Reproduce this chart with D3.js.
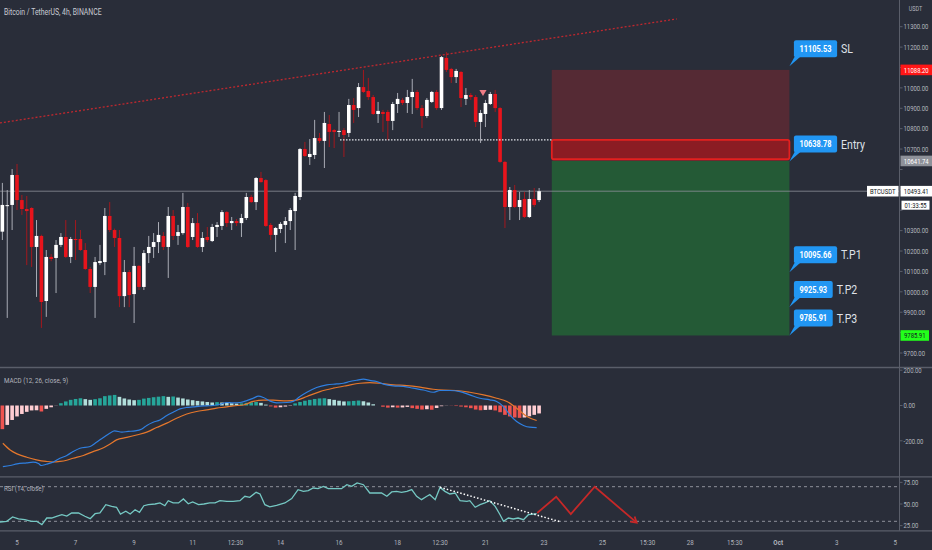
<!DOCTYPE html>
<html>
<head>
<meta charset="utf-8">
<script src="https://cdn.jsdelivr.net/npm/d3@7"></script>
<style>
  html, body { margin: 0; padding: 0; background: #292d39; }
  svg { display: block; }
</style>
</head>
<body>
<div id="chart"></div>
<script>
'use strict';

// ---- data (candle index 0 = Sep 5 00:00, 6 candles a day) ----
var candleStart = -3;
var candleOpen = [
  10295,10420,10426,10573,10450,10406,10411,10220,10274,9955,
  10171,10166,10230,10269,10171,10259,10259,10205,10112,10024,
  10141,10146,10372,10303,10264,9979,10097,9989,10127,10024,
  10190,10220,10244,10274,10220,10372,10274,10288,10416,10269,
  10337,10220,10269,10249,10318,10323,10391,10337,10347,10337,
  10362,10465,10440,10558,10548,10328,10279,10308,10328,10347,
  10396,10465,10700,10661,10671,10754,10740,10823,10793,10784,
  10793,10779,10916,10901,11004,10985,10955,10872,10882,10882,
  10838,10921,10941,10926,10955,10980,10901,10862,10931,10980,
  10901,11147,11093,11053,11078,10946,10965,10955,10833,10872,
  10921,10970,10901,10637,10416,10499,10416,10455,10367,10455,
  10450];
var candleHigh = [
  10534,10499,10602,10627,10475,10470,10415,10352,10280,10205,
  10185,10254,10288,10352,10269,10352,10303,10239,10122,10171,
  10230,10411,10440,10310,10303,10156,10107,10220,10131,10205,
  10274,10288,10342,10293,10416,10401,10328,10485,10436,10362,
  10386,10293,10318,10333,10342,10401,10396,10367,10357,10382,
  10485,10475,10563,10588,10553,10337,10318,10342,10367,10411,
  10485,10705,10735,10749,10843,10779,10882,10867,10798,10882,
  10803,10946,10950,11024,11088,11049,10965,10931,10892,10892,
  10931,10975,10950,10990,11044,10990,10916,10950,10985,10990,
  11156,11176,11098,11093,11083,10999,10975,10965,10892,10941,
  10980,10990,10906,10642,10514,10524,10490,10490,10499,10509,
  10509];
var candleLow = [
  10254,9872,10303,10401,10377,10131,10122,9975,9823,9877,
  10150,9994,10220,10166,10141,10156,10200,10107,9994,9872,
  10131,10082,10293,10220,9925,9925,9925,9847,10009,10009,
  10141,10166,10190,10205,10068,10254,10230,10280,10215,10254,
  10215,10195,10244,10244,10269,10303,10318,10303,10323,10269,
  10352,10436,10401,10535,10318,10254,10195,10288,10239,10303,
  10205,10450,10661,10622,10651,10730,10607,10710,10705,10759,
  10661,10759,10828,10857,10975,10941,10867,10828,10784,10744,
  10793,10877,10916,10877,10872,10892,10803,10852,10926,10892,
  10892,11078,11024,11024,10906,10916,10941,10808,10730,10808,
  10916,10882,10632,10313,10352,10411,10352,10362,10362,10416,
  10440];
var candleClose = [
  10426,10425,10573,10450,10406,10396,10220,10274,9950,10171,
  10161,10230,10269,10171,10259,10254,10205,10112,10024,10146,
  10151,10372,10303,10264,9979,10097,9984,10127,10024,10190,
  10220,10244,10279,10220,10372,10274,10293,10416,10220,10337,
  10220,10264,10254,10318,10328,10391,10337,10347,10337,10362,
  10465,10440,10558,10538,10323,10279,10313,10333,10347,10401,
  10470,10700,10666,10676,10754,10740,10828,10784,10784,10789,
  10769,10916,10892,11004,10980,10955,10872,10887,10872,10838,
  10921,10946,10926,10955,10980,10901,10862,10941,10980,10901,
  11151,11088,11053,11083,10950,10965,10955,10833,10877,10926,
  10970,10901,10637,10416,10499,10416,10450,10367,10455,10426,
  10493.41];

// MACD histogram, one value per candle from candleStart
var macdHist = [
  -134,-110,-82,-62,-48,-36,-28,-27,-34,-19,
  -10,-1,13,23,32,37,41,36,32,36,
  41,53,57,60,49,40,34,30,32,39,
  43,47,50,53,49,51,45,40,34,30,
  26,23,20,17,19,17,15,13,11,12,
  15,18,20,15,5,-5,-12,-10,-6,-2,
  12,20,27,32,37,40,41,36,32,27,
  23,24,26,28,24,17,7,0,-7,-12,
  -10,-12,-11,-8,-15,-19,-23,-21,-24,-14,
  -4,-1,-1,-3,-6,-10,-15,-23,-27,-25,
  -24,-28,-38,-53,-62,-68,-70,-68,-61,-53,
  -45];
// [candle index, value]
var macdLine = [[-2.9,-346],[-1.4,-340],[0,-331],[2,-325],[3.3,-321],[4.4,-329],[5,-340],[6,-333],[7.4,-321],
  [8.8,-299],[10.2,-283],[11.5,-261],[12.9,-242],[15,-232],[16.3,-208],[17.7,-181],[19,-157],[20,-144],
  [21.5,-151],[22.8,-147],[24.2,-144],[25.6,-133],[26.6,-113],[27.9,-95],[29.3,-82],[30.7,-57],[32,-38],
  [33.4,-19],[34.8,-11],[36.1,-8],[37.5,-4],[38.9,-2],[40.2,0],[41.6,7],[43,17],[44.3,15],[45.7,17],
  [47.1,28],[48.4,41],[49.5,53],[50.5,45],[51.8,26],[53.2,15],[55.3,17],[56.6,23],[58,51],[59.4,75],
  [61.4,102],[63.5,117],[65.5,122],[66.9,126],[68.2,136],[69.6,143],[71,149],[72.3,142],[73.7,136],
  [75.1,121],[77.1,111],[79.2,108],[81.2,98],[83.3,88],[85.3,75],[86.7,85],[88.7,85],[90.8,79],[92.8,60],
  [94.9,41],[96.9,32],[98.3,23],[99.7,-6],[101,-53],[102.4,-91],[103.8,-113],[105.1,-123],[106.5,-125]];
var signalLine = [[-2.9,-214],[-1.4,-252],[0,-274],[2,-293],[4,-308],[6,-317],[7.4,-320],[8.8,-317],
  [10.2,-310],[11.5,-299],[13.6,-283],[15.6,-261],[17,-248],[19,-219],[20.4,-195],[22.5,-181],[24.5,-167],
  [26.6,-151],[28.6,-125],[30.7,-100],[32.7,-72],[34.8,-48],[36.8,-34],[38.9,-25],[40.9,-15],[43,-8],
  [44.3,-2],[46.4,3],[48.4,23],[50.5,30],[52.5,30],[55.3,26],[57.3,30],[59.4,51],[62.1,79],[64.8,98],
  [67.6,113],[70.3,126],[72.3,130],[74.4,126],[77.1,117],[79.9,113],[82.6,104],[85.3,92],[87.4,87],
  [90,85],[92.8,75],[95.6,60],[98.3,41],[100.4,23],[102.4,-15],[104.5,-62],[106.5,-85]];
var rsiLine = [[-3.5,29.2],[-2.1,30],[-0.9,35],[0.3,32.7],[1.6,31.9],[3,30],[4,30],[5.1,26.1],[6.1,33.8],
  [7.1,33.8],[8.1,35.8],[9.2,37.6],[10.2,36.1],[11.2,39.6],[12.6,39.6],[13.9,35.8],[15,33],[16,38.8],
  [17,39.6],[18.2,49.2],[19.4,47.3],[20.4,46.2],[21.2,38.4],[22.3,41.6],[23.2,38.4],[24.2,43.4],
  [25.1,40.4],[26,48],[26.9,49.2],[28.3,50],[29.3,51.2],[30.3,48],[31,53.8],[32,51.2],[33.1,51.2],
  [34.1,55.8],[35.1,50.3],[36,52.3],[37.2,49.2],[38.3,50],[39.5,51.2],[40.6,51.2],[41.6,53.8],[43,53.1],
  [44.3,53.1],[45.7,53.8],[46.7,58.9],[47.7,57.7],[49,63.5],[49.8,61.6],[50.8,49.2],[51.8,46.7],
  [53.2,48.5],[54.9,51.2],[56.3,56.2],[57.6,66.6],[58.7,64.6],[59.7,65.4],[60.7,68.5],[61.7,67.7],
  [62.8,70.4],[63.8,67.7],[65.2,67.7],[66.5,67.7],[67.6,72.3],[68.6,70.4],[69.7,74.3],[71,72.3],
  [72.3,62.7],[73.7,62.7],[74.7,62.7],[75.8,58.9],[76.8,63.9],[77.8,64.6],[78.8,63.5],[79.9,64.6],
  [80.9,66.6],[81.9,58.9],[82.9,55],[84,58.9],[84.6,60.8],[85.7,55],[86.7,69.2],[87.7,64.6],[88.7,61.6],
  [89.8,62.7],[90.8,53.8],[92.2,53.1],[92.8,53.8],[93.9,46.2],[94.9,49.2],[95.9,51.2],[96.9,53.8],
  [98,47.3],[99,37.6],[99.7,30],[100.7,33.8],[101.7,32.7],[102.7,33.8],[103.8,31.9],[104.8,37.6],
  [105.8,38.4],[106.5,38.8]];
var rsiTrend = [[86.7,69.3],[111.3,29.5]];
var rsiProjection = [[106.6,39.6],[110.5,58.4],[113.5,38.4],[118.4,70],[127,28.4]];

// drawings on the price pane
var priceTrend = [[-3.5,10828],[135.2,11338]];
var sellMark = [95.5,10980];
var zoneLine = [66.2,109.6,10745];
var position = {start:109.6, end:158.3, entry:10641.74, stop:11088.20, target:9785.91};
var zoneBox = [10745,10650];
var calloutIdx = 158.3;
var calloutPrice = [11105.53,10638.78,10095.66,9925.93,9785.91];
var calloutText = ["SL","Entry","T.P1","T.P2","T.P3"];
var lastPrice = 10493.41;

// axes
var priceTicks = d3.range(9700, 11301, 100);
var macdTicks = [200,0,-200];
var rsiTicks = [75,50,25];
var rsiBands = [70,30];
var timeTickIdx = [0,12,24,36,44.8,54,66,78,86.7,96,108,120,129.2,138,147.1,156,168,180];
var timeTickText = ["5","7","9","11","12:30","14","16","18","12:30","21","23","25","15:30","28","15:30","Oct","3","5"];

// ---- layout ----
var width = 932, height = 550, axisX = 899.5, SX = 0.78;
var mainBot = 367.5, macdTop = 368, macdBot = 476.8, rsiTop = 477, rsiBot = 530.8;
var bg = "#292d39", sepColor = "#5a5e6a", axisText = "#b2b5be";

var x = d3.scaleLinear().domain([0,180]).range([17,895.3]);
var y = d3.scaleLinear().domain([9700,11300]).range([353,26.7]);
var yMacd = d3.scaleLinear().domain([-200,200]).range([440.8,370.2]);
var yRsi = d3.scaleLinear().domain([30,70]).range([521.3,486.7]);

var svg = d3.select("#chart").append("svg")
    .attr("width", width).attr("height", height)
    .style("background", bg)
    .style("font-family", "Roboto, 'Noto Sans', sans-serif");

var defs = svg.append("defs");
[["clipMain",0,0,axisX,mainBot],["clipMacd",0,macdTop,axisX,macdBot-macdTop],["clipRsi",0,rsiTop,axisX,rsiBot-rsiTop]]
  .forEach(function(c){
    defs.append("clipPath").attr("id", c[0]).append("rect")
      .attr("x", c[1]).attr("y", c[2]).attr("width", c[3]).attr("height", c[4]);
  });
defs.append("marker").attr("id","arrow")
    .attr("viewBox","0 0 8 8").attr("refX",6).attr("refY",4)
    .attr("markerWidth",5).attr("markerHeight",5).attr("orient","auto")
  .append("path").attr("d","M1,1 L6,4 L1,7")
    .attr("fill","none").attr("stroke","#c62828").attr("stroke-width",1.6);

// narrow text like the screenshot
function label(g, px, py, s, size, fill, anchor, weight) {
  return g.append("text")
    .attr("transform", "translate(" + px + "," + py + ") scale(" + SX + ",1)")
    .attr("font-size", size)
    .attr("fill", fill)
    .attr("text-anchor", anchor || "start")
    .attr("font-weight", weight || "normal")
    .text(s);
}

var candles = candleOpen.map(function(o, k){
  return {i: candleStart + k, o: o, h: candleHigh[k], l: candleLow[k], c: candleClose[k]};
});

// ---------- price pane ----------
var main = svg.append("g").attr("clip-path", "url(#clipMain)");

// long/short position tool
main.append("rect")
    .attr("x", x(position.start)).attr("width", x(position.end) - x(position.start))
    .attr("y", y(position.stop)).attr("height", y(position.entry) - y(position.stop))
    .attr("fill", "#552a34");
main.append("rect")
    .attr("x", x(position.start)).attr("width", x(position.end) - x(position.start))
    .attr("y", y(position.entry)).attr("height", y(position.target) - y(position.entry))
    .attr("fill", "#245a36");
main.append("rect")
    .attr("x", x(position.start)).attr("width", x(position.end) - x(position.start))
    .attr("y", y(zoneBox[0])).attr("height", y(zoneBox[1]) - y(zoneBox[0]))
    .attr("rx", 2)
    .attr("fill", "#8b1c23").attr("stroke", "#e3201f").attr("stroke-width", 1.8);

// last price line
main.append("line")
    .attr("x1", 0).attr("x2", axisX)
    .attr("y1", y(lastPrice)).attr("y2", y(lastPrice))
    .attr("stroke", "#8d9099").attr("stroke-width", 0.8);

var cg = main.append("g");
cg.selectAll("line.wick").data(candles).join("line").attr("class","wick")
    .attr("x1", d => x(d.i)).attr("x2", d => x(d.i))
    .attr("y1", d => y(d.h)).attr("y2", d => y(d.l))
    .attr("stroke", d => d.c >= d.o ? "#a9acb5" : "#a3181e")
    .attr("stroke-width", 1);
cg.selectAll("rect.body").data(candles).join("rect").attr("class","body")
    .attr("x", d => x(d.i) - 1.8).attr("width", 3.6)
    .attr("y", d => y(Math.max(d.o, d.c)))
    .attr("height", d => Math.max(1, Math.abs(y(d.o) - y(d.c))))
    .attr("fill", d => d.c >= d.o ? "#ffffff" : "#e8141c");

// trend line, zone line, marker
main.append("line")
    .attr("x1", x(priceTrend[0][0])).attr("y1", y(priceTrend[0][1]))
    .attr("x2", x(priceTrend[1][0])).attr("y2", y(priceTrend[1][1]))
    .attr("stroke", "#c0282f").attr("stroke-width", 1.3).attr("stroke-dasharray", "2,2");
main.append("line")
    .attr("x1", x(zoneLine[0])).attr("x2", x(zoneLine[1]))
    .attr("y1", y(zoneLine[2])).attr("y2", y(zoneLine[2]))
    .attr("stroke", "#e6e8ee").attr("stroke-width", 1.4).attr("stroke-dasharray", "1.5,1.5");
main.append("path")
    .attr("d", d3.symbol().type(d3.symbolTriangle).size(22))
    .attr("transform", "translate(" + x(sellMark[0]) + "," + y(sellMark[1]) + ") rotate(180)")
    .attr("fill", "#ef7d86");

// callouts
var tipX = x(calloutIdx);
calloutPrice.forEach(function(p, k){
  var ty = y(p), bx = tipX + 4.5, bh = 17, bb = ty - 9;
  var s = p.toFixed(2), bw = 8 + s.length * 4.4;
  main.append("path")
      .attr("d", "M" + (bx + 1) + "," + (bb - 1) + " L" + tipX + "," + ty + " L" + (bx + 7) + "," + (bb - 1) + "Z")
      .attr("fill", "#2196f3");
  main.append("rect")
      .attr("x", bx).attr("y", bb - bh).attr("width", bw).attr("height", bh)
      .attr("rx", 2).attr("fill", "#2196f3");
  label(main, bx + bw / 2, bb - bh / 2 + 3.3, s, 9.5, "#ffffff", "middle", "bold");
  label(main, bx + bw + 4, bb - bh / 2 + 4.6, calloutText[k], 13.5, "#dfe1e8");
});

label(svg, 4, 14.5, "Bitcoin / TetherUS, 4h, BINANCE", 8.8, "#c8cbd3");

// ---------- MACD pane ----------
var macdG = svg.append("g").attr("clip-path", "url(#clipMacd)");
var hist = macdHist.map((v, k) => ({i: candleStart + k, v: v, prev: k ? macdHist[k - 1] : v}));
macdG.selectAll("rect").data(hist).join("rect")
    .attr("x", d => x(d.i) - 1.8).attr("width", 3.6)
    .attr("y", d => Math.min(yMacd(0), yMacd(d.v)))
    .attr("height", d => Math.abs(yMacd(d.v) - yMacd(0)))
    .attr("fill", d => d.v >= 0 ? (d.v >= d.prev ? "#26a69a" : "#b2dfdb")
                                : (d.v <= d.prev ? "#ef5350" : "#ffcdd2"));
var macdPath = d3.line().x(d => x(d[0])).y(d => yMacd(d[1])).curve(d3.curveMonotoneX);
macdG.append("path").attr("d", macdPath(signalLine))
    .attr("fill", "none").attr("stroke", "#e5772c").attr("stroke-width", 1.2);
macdG.append("path").attr("d", macdPath(macdLine))
    .attr("fill", "none").attr("stroke", "#2f7fe0").attr("stroke-width", 1.2);
label(svg, 4, 383, "MACD (12, 26, close, 9)", 8, axisText);

// ---------- RSI pane ----------
var rsiG = svg.append("g").attr("clip-path", "url(#clipRsi)");
rsiG.selectAll("line.band").data(rsiBands).join("line").attr("class","band")
    .attr("x1", 0).attr("x2", axisX)
    .attr("y1", d => yRsi(d)).attr("y2", d => yRsi(d))
    .attr("stroke", "#9a9da6").attr("stroke-width", 0.9).attr("stroke-dasharray", "3,3");
var rsiPath = d3.line().x(d => x(d[0])).y(d => yRsi(d[1]));
rsiG.append("path").attr("d", rsiPath(rsiLine))
    .attr("fill", "none").attr("stroke", "#75c8c3").attr("stroke-width", 1.3);
rsiG.append("path").attr("d", rsiPath(rsiTrend))
    .attr("fill", "none").attr("stroke", "#ffffff").attr("stroke-width", 1.5).attr("stroke-dasharray", "1.5,2");
rsiG.append("path").attr("d", rsiPath(rsiProjection))
    .attr("fill", "none").attr("stroke", "#c62828").attr("stroke-width", 1.8)
    .attr("marker-end", "url(#arrow)");
label(svg, 4, 490.5, "RSI (14, close)", 8, axisText);

// ---------- separators and axes ----------
[mainBot, macdBot, rsiBot].forEach(function(sy){
  svg.append("line").attr("x1", 0).attr("x2", width).attr("y1", sy).attr("y2", sy)
      .attr("stroke", sepColor).attr("stroke-width", 1.3);
});
svg.append("line").attr("x1", axisX).attr("x2", axisX).attr("y1", 0).attr("y2", rsiBot)
    .attr("stroke", sepColor).attr("stroke-width", 1);

// price tags sit on the axis; tick labels they would cover are left out
var ly = y(lastPrice);
var tagRows = [y(position.stop), y(position.entry), y(position.target), ly, ly + 14];
var axisG = svg.append("g");
function axisTicks(vals, scale, top, bottom, avoid) {
  vals.forEach(function(v){
    var ty = scale(v);
    if (ty < top || ty > bottom) return;
    axisG.append("line").attr("x1", axisX).attr("x2", axisX + 3).attr("y1", ty).attr("y2", ty)
        .attr("stroke", sepColor);
    if (avoid && avoid.some(r => Math.abs(r - ty) < 9)) return;
    label(axisG, axisX + 4, ty + 2.7, v.toFixed(2), 7.6, axisText);
  });
}
axisTicks(priceTicks, y, 2, mainBot - 4, tagRows);
axisTicks(macdTicks, yMacd, macdTop, macdBot);
axisTicks(rsiTicks, yRsi, rsiTop, rsiBot);

// currency label at top
label(axisG, 915.5, 10.5, "USDT", 7, axisText, "middle");

function tag(p, s, fill, color, w) {
  var ty = y(p);
  axisG.append("rect").attr("x", axisX + 1).attr("y", ty - 5.3).attr("width", w).attr("height", 10.6)
      .attr("fill", fill);
  label(axisG, axisX + 1 + w / 2, ty + 2.7, s, 7.6, color, "middle");
}
tag(position.stop, position.stop.toFixed(2), "#ff1616", "#ffffff", 31.5);
tag(position.entry, position.entry.toFixed(2), "#8e9199", "#ffffff", 31.5);
tag(position.target, position.target.toFixed(2), "#22ff1a", "#131722", 28.5);
tag(lastPrice, lastPrice.toFixed(2), "#ffffff", "#131722", 31.5);
axisG.append("rect").attr("x", 867).attr("y", ly - 5.3).attr("width", 31.5).attr("height", 10.6).attr("fill", "#ffffff");
label(axisG, 882.7, ly + 2.7, "BTCUSDT", 7.6, "#131722", "middle");
axisG.append("rect").attr("x", 901.5).attr("y", ly + 9.5).attr("width", 28).attr("height", 9).attr("fill", "#ffffff");
label(axisG, 915.5, ly + 16.7, "01:33:55", 7.4, "#131722", "middle");

// time axis
timeTickText.forEach(function(s, k){
  label(svg, x(timeTickIdx[k]), 544.5, s, 8, axisText, "middle", s === "Oct" ? "bold" : "normal");
});
</script>
</body>
</html>
